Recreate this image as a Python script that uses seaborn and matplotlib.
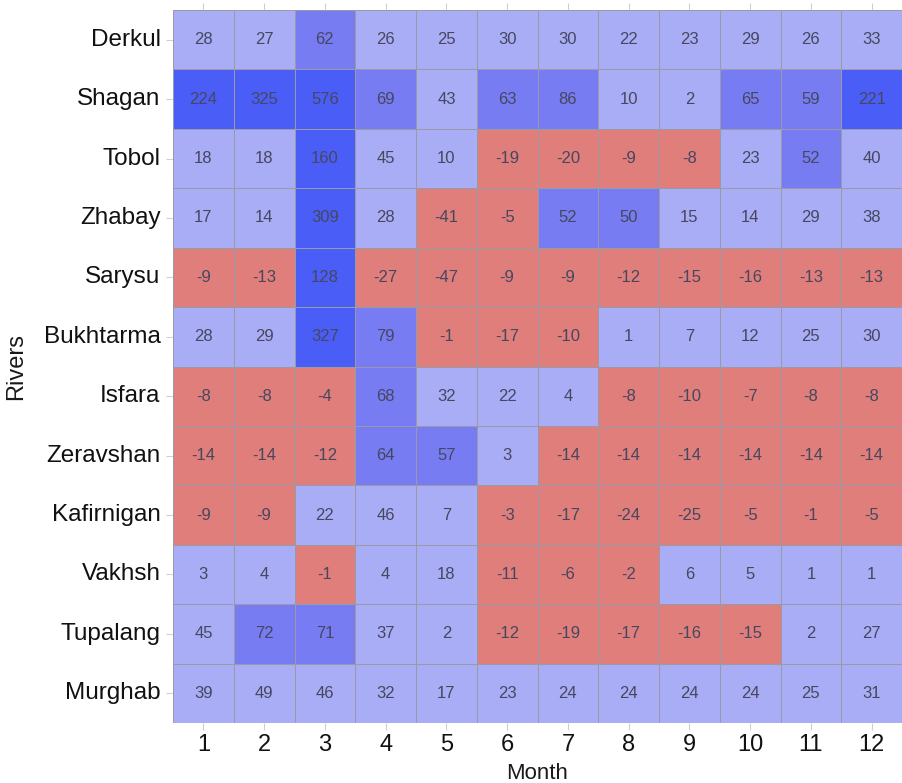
import numpy as np
import pandas as pd
import matplotlib
matplotlib.use('Agg')
import matplotlib.pyplot as plt
from matplotlib.colors import ListedColormap, BoundaryNorm
import seaborn as sns

rivers = ["Derkul", "Shagan", "Tobol", "Zhabay", "Sarysu", "Bukhtarma",
          "Isfara", "Zeravshan", "Kafirnigan", "Vakhsh", "Tupalang", "Murghab"]
months = [1, 2, 3, 4, 5, 6, 7, 8, 9, 10, 11, 12]

derkul = [28, 27, 62, 26, 25, 30, 30, 22, 23, 29, 26, 33]
shagan = [224, 325, 576, 69, 43, 63, 86, 10, 2, 65, 59, 221]
tobol = [18, 18, 160, 45, 10, -19, -20, -9, -8, 23, 52, 40]
zhabay = [17, 14, 309, 28, -41, -5, 52, 50, 15, 14, 29, 38]
sarysu = [-9, -13, 128, -27, -47, -9, -9, -12, -15, -16, -13, -13]
bukhtarma = [28, 29, 327, 79, -1, -17, -10, 1, 7, 12, 25, 30]
isfara = [-8, -8, -4, 68, 32, 22, 4, -8, -10, -7, -8, -8]
zeravshan = [-14, -14, -12, 64, 57, 3, -14, -14, -14, -14, -14, -14]
kafirnigan = [-9, -9, 22, 46, 7, -3, -17, -24, -25, -5, -1, -5]
vakhsh = [3, 4, -1, 4, 18, -11, -6, -2, 6, 5, 1, 1]
tupalang = [45, 72, 71, 37, 2, -12, -19, -17, -16, -15, 2, 27]
murghab = [39, 49, 46, 32, 17, 23, 24, 24, 24, 24, 25, 31]

# class breaks for the fill colours
breaks = [-1000, 0, 50, 100, 1000]
colors = ["#E07E7B", "#A9ADF6", "#777CF3", "#4A5EF7"]

df = pd.DataFrame([derkul, shagan, tobol, zhabay, sarysu, bukhtarma, isfara,
                   zeravshan, kafirnigan, vakhsh, tupalang, murghab],
                  index=rivers, columns=months)

sns.set_theme(style="white")
plt.rcParams['font.family'] = ['Liberation Sans', 'DejaVu Sans']

cmap = ListedColormap(colors)
norm = BoundaryNorm(breaks, cmap.N)

fig = plt.figure(figsize=(9.02, 7.83), dpi=100)
ax = fig.add_axes([0.1918, 0.0766, 0.8082, 0.9106])

sns.heatmap(df, ax=ax, cmap=cmap, norm=norm, cbar=False,
            annot=True, fmt="d", annot_kws={"fontsize": 12, "color": "#45475f"},
            linewidths=0.6, linecolor="#9a9aa6")

ax.set_xlabel("Month", fontsize=16, color="#1a1a1a")
ax.set_ylabel("Rivers", fontsize=17, color="#1a1a1a")
ax.tick_params(axis='x', labelsize=17, colors="#d0d0d0", labelcolor="#111111",
               length=5, width=0.8, pad=3, bottom=True, top=True)
ax.tick_params(axis='y', labelsize=17.5, colors="#d0d0d0", labelcolor="#111111",
               length=5, width=0.8, pad=4, left=True, labelrotation=0)
ax.xaxis.set_label_coords(0.5, -0.056)
ax.yaxis.set_label_coords(-0.2, 0.5)
for s in ax.spines.values():
    s.set_visible(False)

fig.savefig("out.png", dpi=100)
